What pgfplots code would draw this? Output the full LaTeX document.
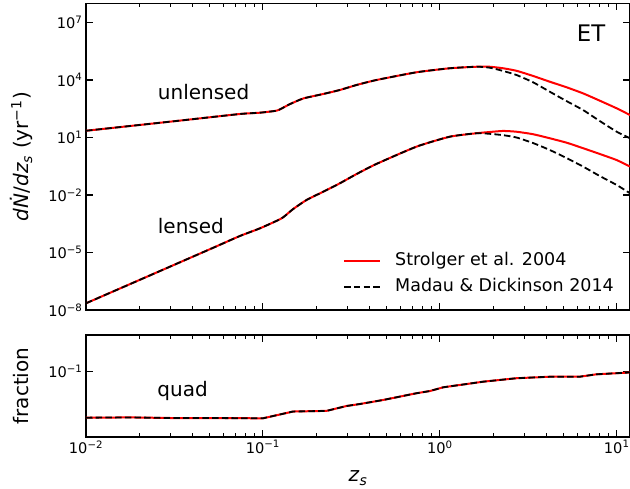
\documentclass[border=0pt]{standalone}
\usepackage{fontspec}
\setmainfont{DejaVu Sans}
\usepackage{pgfplots}
\pgfplotsset{compat=1.18}
\usepackage{pgfplotstable}

\pgfplotstableread{
z N
0.01 22.4
0.03396 75.9
0.0741 167.5
0.0962 196
0.1194 249.5
0.1276 325
0.1422 550
0.1690 1080
0.2193 1854
0.2723 2999
0.3381 5458
0.4385 9954
0.7379 25120
1.138 40740
1.611 48980
1.914 48980
2.280 40740
2.710 30200
3.365 16220
4.178 8128
5.200 4169
6.457 1995
8.017 831.8
10 331.1
11.89 147.9
}\unlensedS
\pgfplotstableread{
z N
0.01 22.4
0.03396 75.9
0.0741 167.5
0.0962 196
0.1194 249.5
0.1276 325
0.1422 550
0.1690 1080
0.2193 1854
0.2723 2999
0.3381 5458
0.4385 9954
0.7379 25120
1.138 40740
1.611 48980
1.914 43650
2.280 29510
2.710 18200
3.365 7586
4.178 2455
5.200 794.3
6.457 269.2
8.017 72.4
10 19.95
11.89 9.12
}\unlensedM
\pgfplotstableread{
z N
0.01 2.239e-8
0.02203 5.37e-7
0.05248 1.78e-5
0.0741 7.24e-5
0.0962 1.82e-4
0.1247 5.37e-4
0.1330 8.0e-4
0.1483 1.85e-3
0.1766 5.50e-3
0.2193 0.0148
0.2723 0.0407
0.3381 0.123
0.4385 0.417
0.7379 3.311
1.138 10.96
1.611 16.60
1.914 19.28
2.280 21.88
2.710 19.95
3.365 14.79
4.178 9.12
5.200 5.37
6.457 2.754
8.017 1.380
10 0.6607
11.89 0.3020
}\lensedS
\pgfplotstableread{
z N
0.01 2.239e-8
0.02203 5.37e-7
0.05248 1.78e-5
0.0741 7.24e-5
0.0962 1.82e-4
0.1247 5.37e-4
0.1330 8.0e-4
0.1483 1.85e-3
0.1766 5.50e-3
0.2193 0.0148
0.2723 0.0407
0.3381 0.123
0.4385 0.417
0.7379 3.311
1.138 10.96
1.611 16.60
1.914 15.49
2.280 13.18
2.710 10.0
3.365 5.13
4.178 2.239
5.200 0.851
6.457 0.302
8.017 0.0977
10 0.0331
11.89 0.0123
}\lensedM
\pgfplotstableread{
z f
0.01 0.01977
0.01778 0.01995
0.03162 0.01950
0.05623 0.01950
0.1 0.01932
0.1479 0.02455
0.2291 0.02512
0.2972 0.02985
0.3532 0.03199
0.4786 0.03690
0.7379 0.04677
0.8790 0.05058
1.045 0.05768
1.758 0.07031
2.710 0.07943
4.169 0.08375
6.166 0.08375
7.674 0.09120
11.32 0.09661
11.89 0.09772
}\quadS

\newcommand{\tfont}{\fontsize{14.6bp}{17bp}\selectfont}
\newcommand{\lfont}{\fontsize{20bp}{24bp}\selectfont}
\newcommand{\supx}[1]{\textsuperscript{#1}}

\begin{document}
\begin{tikzpicture}[x=1bp,y=1bp]
\path[use as bounding box] (0,0) rectangle (630,489);
\begin{axis}[
  xmode=log, ymode=log, scale only axis,
  at={(86bp,179bp)}, anchor=south west,
  width=544bp, height=306.7bp,
  xmin=0.01, xmax=11.89,
  ymin=1e-8, ymax=1e8,
  axis line style={line width=1.3bp},
  tick align=inside,
  major tick length=7bp, minor tick length=4bp,
  every tick/.append style={black, line width=1.1bp},
  tick label style={font=\tfont},
  xtick={0.01,0.1,1,10},
  minor xtick={0.02,0.03,0.04,0.05,0.06,0.07,0.08,0.09,0.2,0.3,0.4,0.5,0.6,0.7,0.8,0.9,2,3,4,5,6,7,8,9},
  ytick={1e-8,1e-5,1e-2,1e1,1e4,1e7},
  yticklabels={10\supx{−8},10\supx{−5},10\supx{−2},10\supx{1},10\supx{4},10\supx{7}},
  xticklabels={},
  ylabel={\textit{dṄ}/\textit{dz}\textsubscript{\textit{s}} (yr\supx{−1})},
  ylabel style={font=\lfont, at={(axis description cs:-0.1048,0.5)}, anchor=base},
  legend style={at={(0.4724,0.1891)}, anchor=north west, draw=none, fill=none,
    font=\fontsize{17.5bp}{20bp}\selectfont, inner sep=0pt, row sep=10bp, column sep=14bp,
    nodes={inner sep=0pt, text height=13bp, text depth=3.7bp}},
  legend cell align=left,
  legend image code/.code={\draw[#1] (0bp,0bp) -- (36bp,0bp);},
]
\addplot[color=red, line width=2bp, smooth, tension=0.35] table[x=z,y=N] {\unlensedS};
\addlegendentry{Strolger et al. 2004}
\addplot[color=black, line width=1.8bp, dash pattern=on 6.5bp off 3.2bp, smooth, tension=0.35] table[x=z,y=N] {\unlensedM};
\addlegendentry{Madau \& Dickinson 2014}
\addplot[color=red, line width=2bp, smooth, tension=0.35, forget plot] table[x=z,y=N] {\lensedS};
\addplot[color=black, line width=1.8bp, dash pattern=on 6.5bp off 3.2bp, smooth, tension=0.35, forget plot] table[x=z,y=N] {\lensedM};
\node[anchor=base west, inner sep=0pt, font=\lfont] at (rel axis cs:0.1318,0.6847) {unlensed};
\node[anchor=base west, inner sep=0pt, font=\lfont] at (rel axis cs:0.1318,0.2478) {lensed};
\node[anchor=base west, inner sep=0pt, font=\fontsize{22.8bp}{26bp}\selectfont] at (rel axis cs:0.902,0.8748) {ET};
\end{axis}
\begin{axis}[
  xmode=log, ymode=log, scale only axis,
  at={(86bp,52bp)}, anchor=south west,
  width=544bp, height=102bp,
  xmin=0.01, xmax=11.89,
  ymin=0.01, ymax=0.3648,
  axis line style={line width=1.3bp},
  tick align=inside,
  major tick length=7bp, minor tick length=4bp,
  every tick/.append style={black, line width=1.1bp},
  tick label style={font=\tfont},
  xtick={0.01,0.1,1,10},
  minor xtick={0.02,0.03,0.04,0.05,0.06,0.07,0.08,0.09,0.2,0.3,0.4,0.5,0.6,0.7,0.8,0.9,2,3,4,5,6,7,8,9},
  ytick={0.1},
  yticklabels={10\supx{−1}},
  xticklabels={10\supx{−2},10\supx{−1},10\supx{0},10\supx{1}},
  ylabel={fraction},
  ylabel style={font=\lfont, at={(axis description cs:-0.1048,0.5)}, anchor=base},
  xlabel={\textit{z}\textsubscript{\textit{s}}},
  xlabel style={font=\lfont, at={(axis description cs:0.5,-0.441)}, anchor=base},
]
\addplot[color=red, line width=2bp] table[x=z,y=f] {\quadS};
\addplot[color=black, line width=1.8bp, dash pattern=on 6.5bp off 3.2bp] table[x=z,y=f] {\quadS};
\node[anchor=base west, inner sep=0pt, font=\lfont] at (rel axis cs:0.131,0.395) {quad};
\end{axis}
\end{tikzpicture}
\end{document}
